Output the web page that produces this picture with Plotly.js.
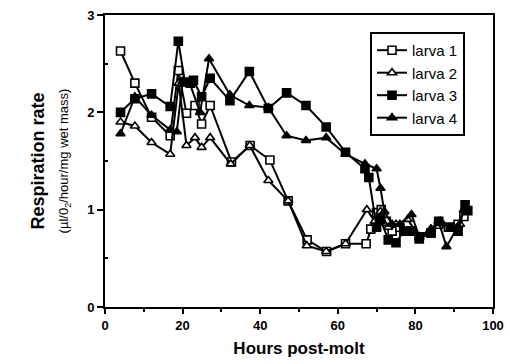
<!DOCTYPE html>
<html>
<head>
<meta charset="utf-8">
<script src="https://cdn.plot.ly/plotly-3.0.1.min.js"></script>
<style>html,body{margin:0;padding:0;background:#fff;}#chart{width:510px;height:364px;}</style>
</head>
<body>
<div id="chart"></div>
<script>
const seriesNames = ["larva 1", "larva 2", "larva 3", "larva 4"];

const larva1X = [4, 7.7, 12, 16.8, 18.9, 21, 23.2, 24.9, 27.1, 32.6, 37.4, 42.5, 47.2, 52.1, 57.1, 62, 67.3, 68.5, 70, 71.2, 72.5, 74, 76, 79, 81, 84, 86, 88.5, 91, 92.5];
const larva1Y = [2.63, 2.30, 1.95, 1.76, 2.43, 1.99, 2.07, 1.88, 2.07, 1.49, 1.66, 1.51, 1.09, 0.69, 0.57, 0.65, 0.65, 0.80, 0.97, 1.00, 0.88, 0.78, 0.82, 0.78, 0.72, 0.76, 0.85, 0.82, 0.85, 0.93];

const larva2X = [4, 7.7, 12, 16.8, 19, 21, 23.2, 24.9, 27.1, 32.4, 37.3, 42.1, 47.2, 52, 57, 62, 67.5, 69.5, 71, 73, 75, 78, 81, 84, 86.5, 89, 91.5];
const larva2Y = [1.90, 1.86, 1.69, 1.57, 2.30, 1.66, 1.74, 1.64, 1.74, 1.47, 1.66, 1.30, 1.09, 0.63, 0.57, 0.65, 1.00, 0.88, 0.98, 0.82, 0.85, 0.90, 0.72, 0.80, 0.88, 0.80, 0.85];

const larva3X = [4, 7.7, 12, 16.8, 18.9, 20.6, 22.8, 24.9, 27.1, 32.2, 37.2, 42.1, 46.8, 51.8, 57, 62, 67, 68, 70, 71, 73, 75, 77, 79, 81, 84, 86, 89, 91, 92.8, 93.5];
const larva3Y = [2.00, 2.14, 2.19, 2.06, 2.73, 2.31, 2.33, 2.16, 2.35, 2.12, 2.42, 2.04, 2.20, 2.07, 1.85, 1.59, 1.42, 1.33, 0.82, 0.90, 0.69, 0.66, 0.78, 0.78, 0.70, 0.76, 0.88, 0.82, 0.78, 1.05, 0.99];

const larva4X = [4, 7.7, 12, 16.8, 18.5, 20, 22, 24.5, 26.8, 32.2, 37.2, 42.1, 46.8, 51.8, 57, 62, 67, 70, 71, 72, 74, 76, 79, 81, 84, 86, 88, 91, 92.5];
const larva4Y = [1.78, 2.16, 1.97, 1.82, 1.80, 2.32, 2.28, 2.00, 2.55, 2.18, 2.07, 2.05, 1.76, 1.71, 1.74, 1.57, 1.47, 1.42, 1.22, 0.98, 0.85, 0.85, 0.95, 0.72, 0.80, 0.88, 0.62, 0.83, 1.00];

const xTickVals = [0, 20, 40, 60, 80, 100];
const yTickVals = [0, 1, 2, 3];

function mk(name, x, y, symbol, filled) {
  return {
    type: 'scatter', mode: 'lines+markers', name: name, x: x, y: y,
    line: {color: '#000', width: 2},
    marker: {symbol: symbol, size: 8, color: filled ? '#000' : '#fff', line: {color: '#000', width: 1.6}},
    cliponaxis: false
  };
}

const data = [
  mk(seriesNames[0], larva1X, larva1Y, 'square', false),
  mk(seriesNames[1], larva2X, larva2Y, 'triangle-up', false),
  mk(seriesNames[2], larva3X, larva3Y, 'square', true),
  mk(seriesNames[3], larva4X, larva4Y, 'triangle-up', true)
];

const tickFont = {family: 'Liberation Sans, Arial, sans-serif', size: 13, color: '#000', weight: 'bold'};

const layout = {
  width: 510, height: 364,
  margin: {l: 105, r: 17, t: 15, b: 57},
  paper_bgcolor: '#fff', plot_bgcolor: '#fff',
  showlegend: true,
  legend: {
    x: 0.683, y: 0.942, xanchor: 'left', yanchor: 'top',
    bordercolor: '#000', borderwidth: 2, bgcolor: '#fff',
    font: {family: 'Liberation Sans, Arial, sans-serif', size: 15, color: '#000'},
    tracegroupgap: 0
  },
  xaxis: {
    range: [0, 100], tickvals: xTickVals, ticktext: xTickVals.map(String),
    ticks: 'outside', ticklen: 5, tickwidth: 2, tickcolor: '#000',
    showline: true, linecolor: '#000', linewidth: 2, mirror: true,
    showgrid: false, zeroline: false, tickfont: tickFont,
    minor: {tickvals: [10, 30, 50, 70, 90], ticks: 'outside', ticklen: 3, tickwidth: 2, tickcolor: '#000'},
    title: {text: '<b>Hours post-molt</b>', font: {family: 'Liberation Sans, Arial, sans-serif', size: 17, color: '#000'}, standoff: 11}
  },
  yaxis: {
    range: [0, 3], tickvals: yTickVals, ticktext: yTickVals.map(String),
    ticks: 'outside', ticklen: 6, tickwidth: 2, tickcolor: '#000',
    showline: true, linecolor: '#000', linewidth: 2, mirror: true,
    showgrid: false, zeroline: false, tickfont: tickFont,
    minor: {tickvals: [0.5, 1.5, 2.5], ticks: 'inside', ticklen: 3, tickwidth: 2, tickcolor: '#000'},
    title: {
      text: '<b>Respiration rate</b><br><span style="font-size:13px">(µl/0<sub>2</sub>/hour/mg wet mass)</span>',
      font: {family: 'Liberation Sans, Arial, sans-serif', size: 18, color: '#000'}, standoff: 14
    }
  }
};

Plotly.newPlot('chart', data, layout, {displayModeBar: false, staticPlot: true});
</script>
</body>
</html>
